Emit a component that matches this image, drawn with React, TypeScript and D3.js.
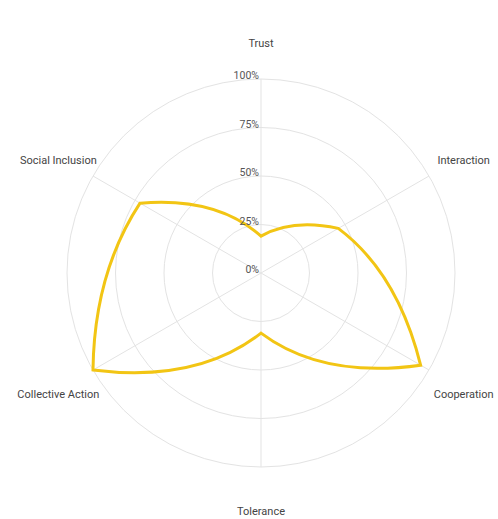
import React, { useEffect, useRef } from 'react';
import * as d3 from 'd3';

const categories = ['Trust', 'Interaction', 'Cooperation', 'Tolerance', 'Collective Action', 'Social Inclusion'];
const values = [19, 46, 95, 31, 100, 72];
const ticks = [0, 25, 50, 75, 100];

// closed curve whose segments bend towards the polar midpoint between two points
const curvePolarClosed = (context: any) => {
  let pts: [number, number][] = [];
  return {
    areaStart() {},
    areaEnd() {},
    lineStart() { pts = []; },
    point(x: number, y: number) { pts.push([x, y]); },
    lineEnd() {
      if (!pts.length) return;
      const polar = pts.map(([x, y]) => [Math.atan2(y, x), Math.hypot(x, y)]);
      context.moveTo(pts[0][0], pts[0][1]);
      for (let i = 0; i < polar.length; i++) {
        const [a0, r0] = polar[i];
        const [a1, r1] = polar[(i + 1) % polar.length];
        let da = a1 - a0;
        if (da > Math.PI) da -= 2 * Math.PI;
        if (da < -Math.PI) da += 2 * Math.PI;
        const am = a0 + da / 2;
        const rm = (r0 + r1) / 2;
        const [x1, y1] = pts[(i + 1) % pts.length];
        context.quadraticCurveTo(rm * Math.cos(am), rm * Math.sin(am), x1, y1);
      }
      context.closePath();
    },
  };
};

const App: React.FC = () => {
  const svgRef = useRef<SVGSVGElement>(null);

  useEffect(() => {
    if (!svgRef.current) return;
    const svg = d3.select(svgRef.current);
    svg.selectAll('*').remove();

    const cx = 261, cy = 273, R = 194;
    const g = svg.append('g').attr('transform', `translate(${cx},${cy})`);

    const angle = d3.scaleLinear().domain([0, categories.length]).range([0, 2 * Math.PI]);
    const r = d3.scaleLinear().domain([0, 100]).range([0, R]);

    // grid circles
    g.selectAll('.ring')
      .data(ticks.filter(t => t > 0))
      .enter().append('circle')
      .attr('r', d => r(d))
      .attr('fill', 'none')
      .attr('stroke', '#e3e3e3')
      .attr('stroke-width', 1);

    // spokes
    g.selectAll('.spoke')
      .data(categories)
      .enter().append('line')
      .attr('x1', 0).attr('y1', 0)
      .attr('x2', (_, i) => R * Math.sin(angle(i)))
      .attr('y2', (_, i) => -R * Math.cos(angle(i)))
      .attr('stroke', '#e3e3e3')
      .attr('stroke-width', 1);

    // category labels
    g.selectAll('.cat')
      .data(categories)
      .enter().append('text')
      .attr('x', (_, i) => (R + 40) * Math.sin(angle(i)))
      .attr('y', (_, i) => -(R + 40) * Math.cos(angle(i)) + 5)
      .attr('text-anchor', 'middle')
      .attr('dominant-baseline', 'middle')
      .attr('font-family', 'Roboto, sans-serif')
      .attr('font-size', 11)
      .attr('fill', '#444')
      .text(d => d);

    // data line
    const line = d3.lineRadial<number>()
      .angle((_, i) => angle(i))
      .radius(d => r(d))
      .curve(curvePolarClosed as any);

    g.append('path')
      .datum(values)
      .attr('d', line)
      .attr('fill', 'none')
      .attr('stroke', '#f2c514')
      .attr('stroke-width', 3)
      .attr('stroke-linejoin', 'miter');

    // tick labels
    g.selectAll('.tick')
      .data(ticks)
      .enter().append('text')
      .attr('x', -2)
      .attr('y', d => -r(d))
      .attr('text-anchor', 'end')
      .attr('font-family', 'Roboto, sans-serif')
      .attr('font-size', 10.5)
      .attr('fill', '#555')
      .text(d => `${d}%`);
  }, []);

  return (
    <svg
      ref={svgRef}
      width={498}
      height={519}
      style={{ position: 'absolute', left: 0, top: 0, background: '#fff' }}
    />
  );
};

export default App;
